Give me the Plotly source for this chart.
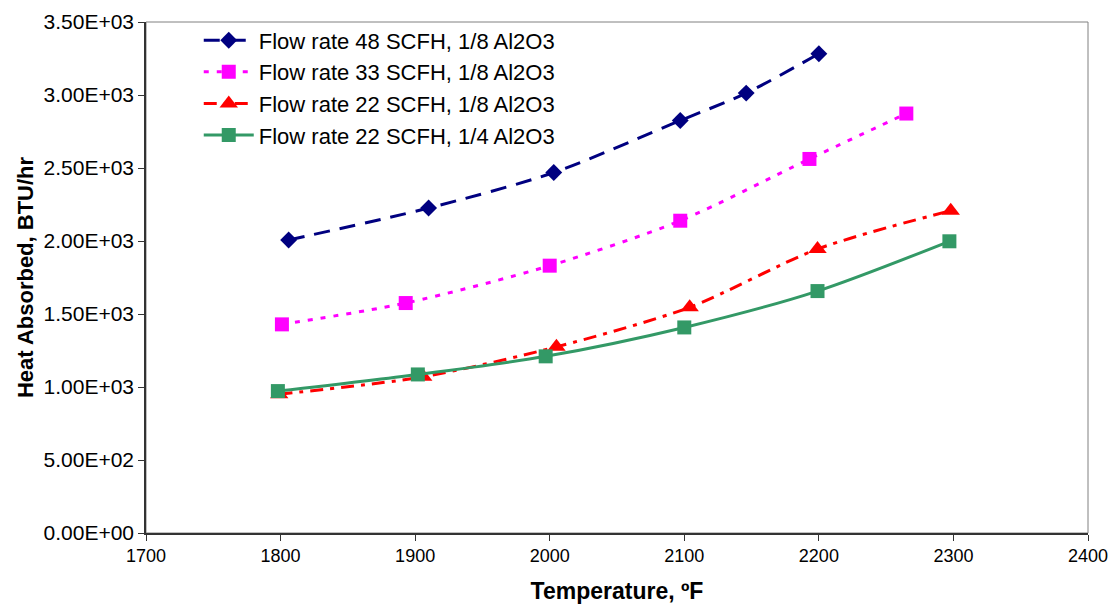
import plotly.graph_objects as go

# Heat absorbed vs. temperature for four flow-rate / alumina configurations
temp_48_18 = [1806, 1910, 2003, 2097, 2146, 2200]
heat_48_18 = [2007, 2226, 2469, 2825, 3013, 3283]

temp_33_18 = [1801, 1893, 2000, 2097, 2193, 2265]
heat_33_18 = [1429, 1575, 1831, 2139, 2562, 2873]

temp_22_18 = [1799, 1906, 2005, 2104, 2199, 2298]
heat_22_18 = [951, 1070, 1275, 1546, 1945, 2208]

temp_22_14 = [1798, 1902, 1997, 2100, 2199, 2297]
heat_22_14 = [972, 1086, 1210, 1408, 1657, 1998]

series_names = [
    "Flow rate 48 SCFH, 1/8 Al2O3",
    "Flow rate 33 SCFH, 1/8 Al2O3",
    "Flow rate 22 SCFH, 1/8 Al2O3",
    "Flow rate 22 SCFH, 1/4 Al2O3",
]

x_ticks = [1700, 1800, 1900, 2000, 2100, 2200, 2300, 2400]
y_ticks = [0, 500, 1000, 1500, 2000, 2500, 3000, 3500]
y_tick_text = [f"{v:.2E}" for v in y_ticks]

FONT = "Liberation Sans, Arial, sans-serif"

fig = go.Figure()

styles = [
    (temp_48_18, heat_48_18, "#000080", "16px,10px", "diamond", 13),
    (temp_33_18, heat_33_18, "#FF00FF", "5px,8px", "square", 14),
    (temp_22_18, heat_22_18, "#FF0000", "13px,7px,4px,7px", "triangle-up", 16),
    (temp_22_14, heat_22_14, "#339966", "solid", "square", 14),
]

for name, (xs, ys, color, dash, symbol, msize) in zip(series_names, styles):
    fig.add_trace(go.Scatter(
        x=xs, y=ys, name=name, mode="lines+markers",
        line=dict(color=color, width=3, dash=dash, shape="spline", smoothing=0.8),
        marker=dict(symbol=symbol, size=msize, color=color, line=dict(width=0)),
    ))

# grey frame on the top and right edges of the plot area
fig.add_shape(type="rect", xref="x domain", yref="y domain",
              x0=0, x1=1, y0=0, y1=1, line=dict(color="#808080", width=1),
              layer="below")

fig.update_layout(
    width=1115, height=610,
    margin=dict(l=146, r=27, t=22, b=77),
    paper_bgcolor="white", plot_bgcolor="white",
    font=dict(family=FONT, color="black"),
    showlegend=True,
    legend=dict(
        x=0.056, y=1.005, xanchor="left", yanchor="top",
        font=dict(family=FONT, size=22, color="black"),
        bgcolor="rgba(0,0,0,0)", borderwidth=0,
        itemwidth=50, tracegroupgap=0,
    ),
    xaxis=dict(
        range=[1700, 2400], tickvals=x_ticks, ticktext=[str(v) for v in x_ticks],
        showgrid=False, zeroline=False, automargin=False,
        showline=True, linecolor="#333333", linewidth=1.5,
        ticks="outside", ticklen=6, tickcolor="#333333",
        tickfont=dict(family=FONT, size=18, color="black"),
        title=dict(text="<b>Temperature, ºF</b>",
                   font=dict(family=FONT, size=23, color="black"), standoff=18),
    ),
    yaxis=dict(
        range=[0, 3500], tickvals=y_ticks, ticktext=y_tick_text,
        showgrid=False, zeroline=False, automargin=False,
        showline=True, linecolor="#333333", linewidth=1.5,
        ticks="outside", ticklen=6, tickcolor="#333333",
        tickfont=dict(family=FONT, size=21, color="black"),
        title=dict(text="<b>Heat Absorbed, BTU/hr</b>",
                   font=dict(family=FONT, size=22, color="black"), standoff=4),
    ),
)

fig.write_html("out.html")
